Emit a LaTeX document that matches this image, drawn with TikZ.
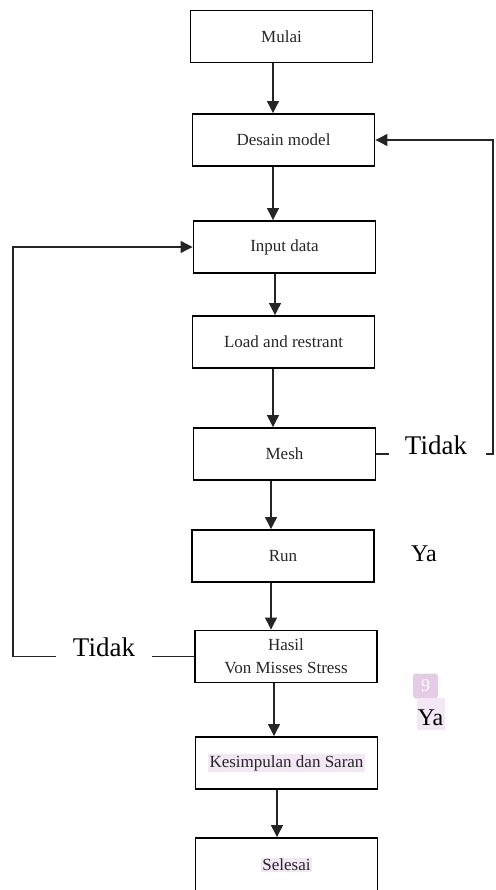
\documentclass[tikz,border=0pt]{standalone}
\usepackage{fontspec}
\setmainfont{Liberation Serif}
\usetikzlibrary{arrows.meta}
\definecolor{hl}{HTML}{F3E6F5}
\definecolor{badge}{HTML}{E6CBE6}
\definecolor{ln}{HTML}{252525}
\begin{document}
\begin{tikzpicture}[x=1pt,y=-1pt,
  box/.style={draw=black, line width=1.9pt, minimum width=182pt, minimum height=52pt, font=\fontsize{17}{20}\selectfont, inner sep=2pt, align=center, text=black!85},
  conn/.style={draw=ln, line width=1.2pt},
  arr/.style={conn, -{Triangle[width=12pt,length=12pt]}},
  lab/.style={font=\fontsize{27}{31}\selectfont, anchor=base, inner sep=0pt},
  yalab/.style={font=\fontsize{24}{28}\selectfont, anchor=base, inner sep=0pt}]
\useasboundingbox (0,0) rectangle (495,890);
\setlength{\fboxsep}{1.5pt}
% boxes
\node[box] (mulai) at (281.5,36.5) {Mulai};
\node[box] (desain) at (283.5,140) {Desain model};
\node[box] (input) at (284.5,247) {Input data};
\node[box] (load) at (283.5,342) {Load and restrant};
\node[box] (mesh) at (284.5,454) {Mesh};
\node[box] (run) at (283,556) {Run};
\node[box] (hasil) at (286,656.5) {Hasil\\[3pt]Von Misses Stress};
\node[box] (kesim) at (286.5,763) {\colorbox{hl}{Kesimpulan dan Saran}};
\node[box, minimum height=54pt] (selesai) at (286.5,865) {\colorbox{hl}{Selesai}};
% main flow
\draw[arr] (mulai.south -| 273,0) -- (desain.north -| 273,0);
\draw[arr] (desain.south -| 273,0) -- (input.north -| 273,0);
\draw[arr] (input.south -| 275,0) -- (load.north -| 275,0);
\draw[arr] (load.south -| 273,0) -- (mesh.north -| 273,0);
\draw[arr] (mesh.south -| 271,0) -- (run.north -| 271,0);
\draw[arr] (run.south -| 271,0) -- (hasil.north -| 271,0);
\draw[arr] (hasil.south -| 274,0) -- (kesim.north -| 274,0);
\draw[arr] (kesim.south -| 277,0) -- (selesai.north -| 277,0);
% right feedback (Tidak)
\coordinate (r1) at (389,454);
\coordinate (r2) at (486,454);
\coordinate (r3) at (493,454);
\draw[conn] (mesh.east) -- (r1);
\node[lab] (tidak1) at (436,454) {Tidak};
\draw[arr] (r2) -- (r3) |- (desain.east);
% left feedback (Tidak)
\coordinate (l1) at (152,656.5);
\coordinate (l2) at (56,656.5);
\coordinate (l3) at (13,656.5);
\draw[conn] (hasil.west) -- (l1);
\node[lab] (tidak2) at (104,656) {Tidak};
\draw[arr] (l2) -- (l3) |- (input.west);
% Ya labels
\node[yalab] (ya1) at (424,561) {Ya};
\node[fill=badge, rounded corners=3pt, minimum width=25pt, minimum height=25pt, inner sep=0pt, text=white, font=\fontsize{18}{20}\selectfont] (badge) at (425.5,686) {9};
\fill[hl] (417,698) rectangle (445,730);
\node[yalab] (ya2) at (430.5,725) {Ya};
\end{tikzpicture}
\end{document}
